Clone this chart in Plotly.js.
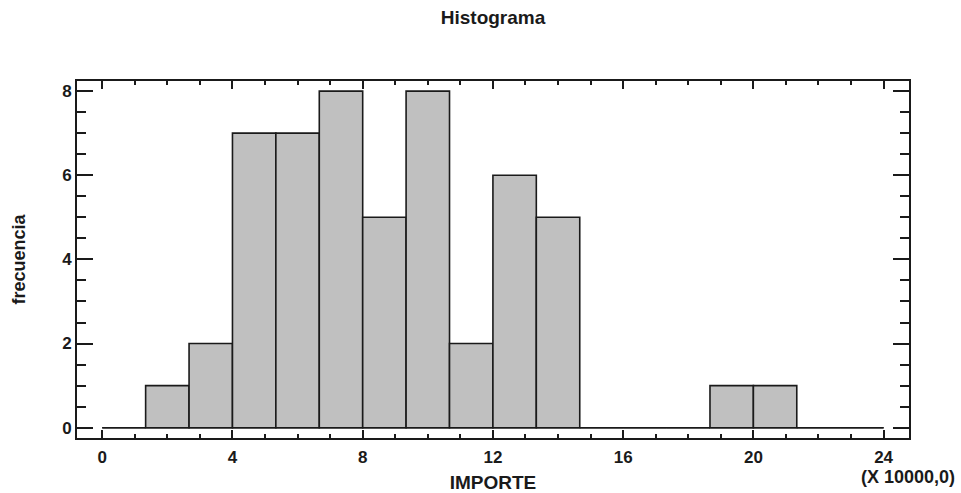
<!DOCTYPE html>
<html>
<head>
<meta charset="utf-8">
<script src="https://cdn.plot.ly/plotly-3.0.1.min.js"></script>
<style>html,body{margin:0;padding:0;background:#fff;}#chart{width:961px;height:493px;}</style>
</head>
<body>
<div id="chart"></div>
<script>
// Bin edges of the histogram (IMPORTE, in units of 10000)
var binEdges = [0, 1.333, 2.667, 4, 5.333, 6.667, 8, 9.333, 10.667, 12, 13.333, 14.667, 16, 17.333, 18.667, 20, 21.333, 22.667, 24];
// Frequency of each bin
var counts = [0, 1, 2, 7, 7, 8, 5, 8, 2, 6, 5, 0, 0, 0, 1, 1, 0, 0];
var xTickVals = [0, 4, 8, 12, 16, 20, 24];
var yTickVals = [0, 2, 4, 6, 8];
var chartTitle = 'Histograma';
var xTitle = 'IMPORTE';
var yTitle = 'frecuencia';
var scaleNote = '(X 10000,0)';

var centers = [], widths = [];
for (var i = 0; i < counts.length; i++) {
  centers.push((binEdges[i] + binEdges[i + 1]) / 2);
  widths.push(binEdges[i + 1] - binEdges[i]);
}

var fontFam = 'Liberation Sans, Arial, sans-serif';
var ink = '#1a1a1a';

var traces = [
  {
    type: 'scatter', mode: 'lines',
    x: [binEdges[0], binEdges[binEdges.length - 1]], y: [0, 0],
    line: {color: ink, width: 1.6}, hoverinfo: 'skip', showlegend: false
  },
  {
    type: 'bar', x: centers, y: counts, width: widths,
    marker: {color: '#c0c0c0', line: {color: ink, width: 1.6}},
    showlegend: false
  }
];

var layout = {
  width: 961, height: 493,
  margin: {l: 77, r: 52, t: 81, b: 55},
  paper_bgcolor: '#ffffff', plot_bgcolor: '#ffffff',
  font: {family: fontFam, size: 17, color: ink, weight: 'bold'},
  title: {text: chartTitle, font: {family: fontFam, size: 19, weight: 'bold', color: ink},
          x: 0.5, xref: 'paper', y: 1 - 17 / 493, yref: 'container', yanchor: 'middle'},
  bargap: 0,
  xaxis: {
    range: [-0.775, 24.78], tickmode: 'array', tickvals: xTickVals,
    ticks: 'inside', ticklen: 8, tickwidth: 2, tickcolor: ink,
    minor: {dtick: 1, tick0: 0, ticks: 'inside', ticklen: 4, tickwidth: 2, tickcolor: ink, showgrid: false},
    showline: true, linecolor: ink, linewidth: 2, mirror: 'allticks',
    showgrid: false, zeroline: false, ticklabelstandoff: 3,
    tickfont: {family: fontFam, size: 17, weight: 'bold', color: ink},
    title: {text: xTitle, font: {family: fontFam, size: 19, weight: 'bold', color: ink}, standoff: 11}
  },
  yaxis: {
    range: [-0.245, 8.24], tickmode: 'array', tickvals: yTickVals,
    ticks: 'inside', ticklen: 16, tickwidth: 2, tickcolor: ink,
    minor: {dtick: 0.5, tick0: 0, ticks: 'inside', ticklen: 9, tickwidth: 2, tickcolor: ink, showgrid: false},
    showline: true, linecolor: ink, linewidth: 2, mirror: 'allticks',
    showgrid: false, zeroline: false,
    tickfont: {family: fontFam, size: 17, weight: 'bold', color: ink},
    title: {text: yTitle, font: {family: fontFam, size: 18, weight: 'bold', color: ink}, standoff: 32}
  },
  annotations: [{
    text: scaleNote, xref: 'paper', yref: 'paper', x: 1.058, y: -0.11,
    xanchor: 'right', yanchor: 'middle', showarrow: false,
    font: {family: fontFam, size: 18, weight: 'bold', color: ink}
  }]
};

Plotly.newPlot('chart', traces, layout, {displayModeBar: false, staticPlot: true});
</script>
</body>
</html>
